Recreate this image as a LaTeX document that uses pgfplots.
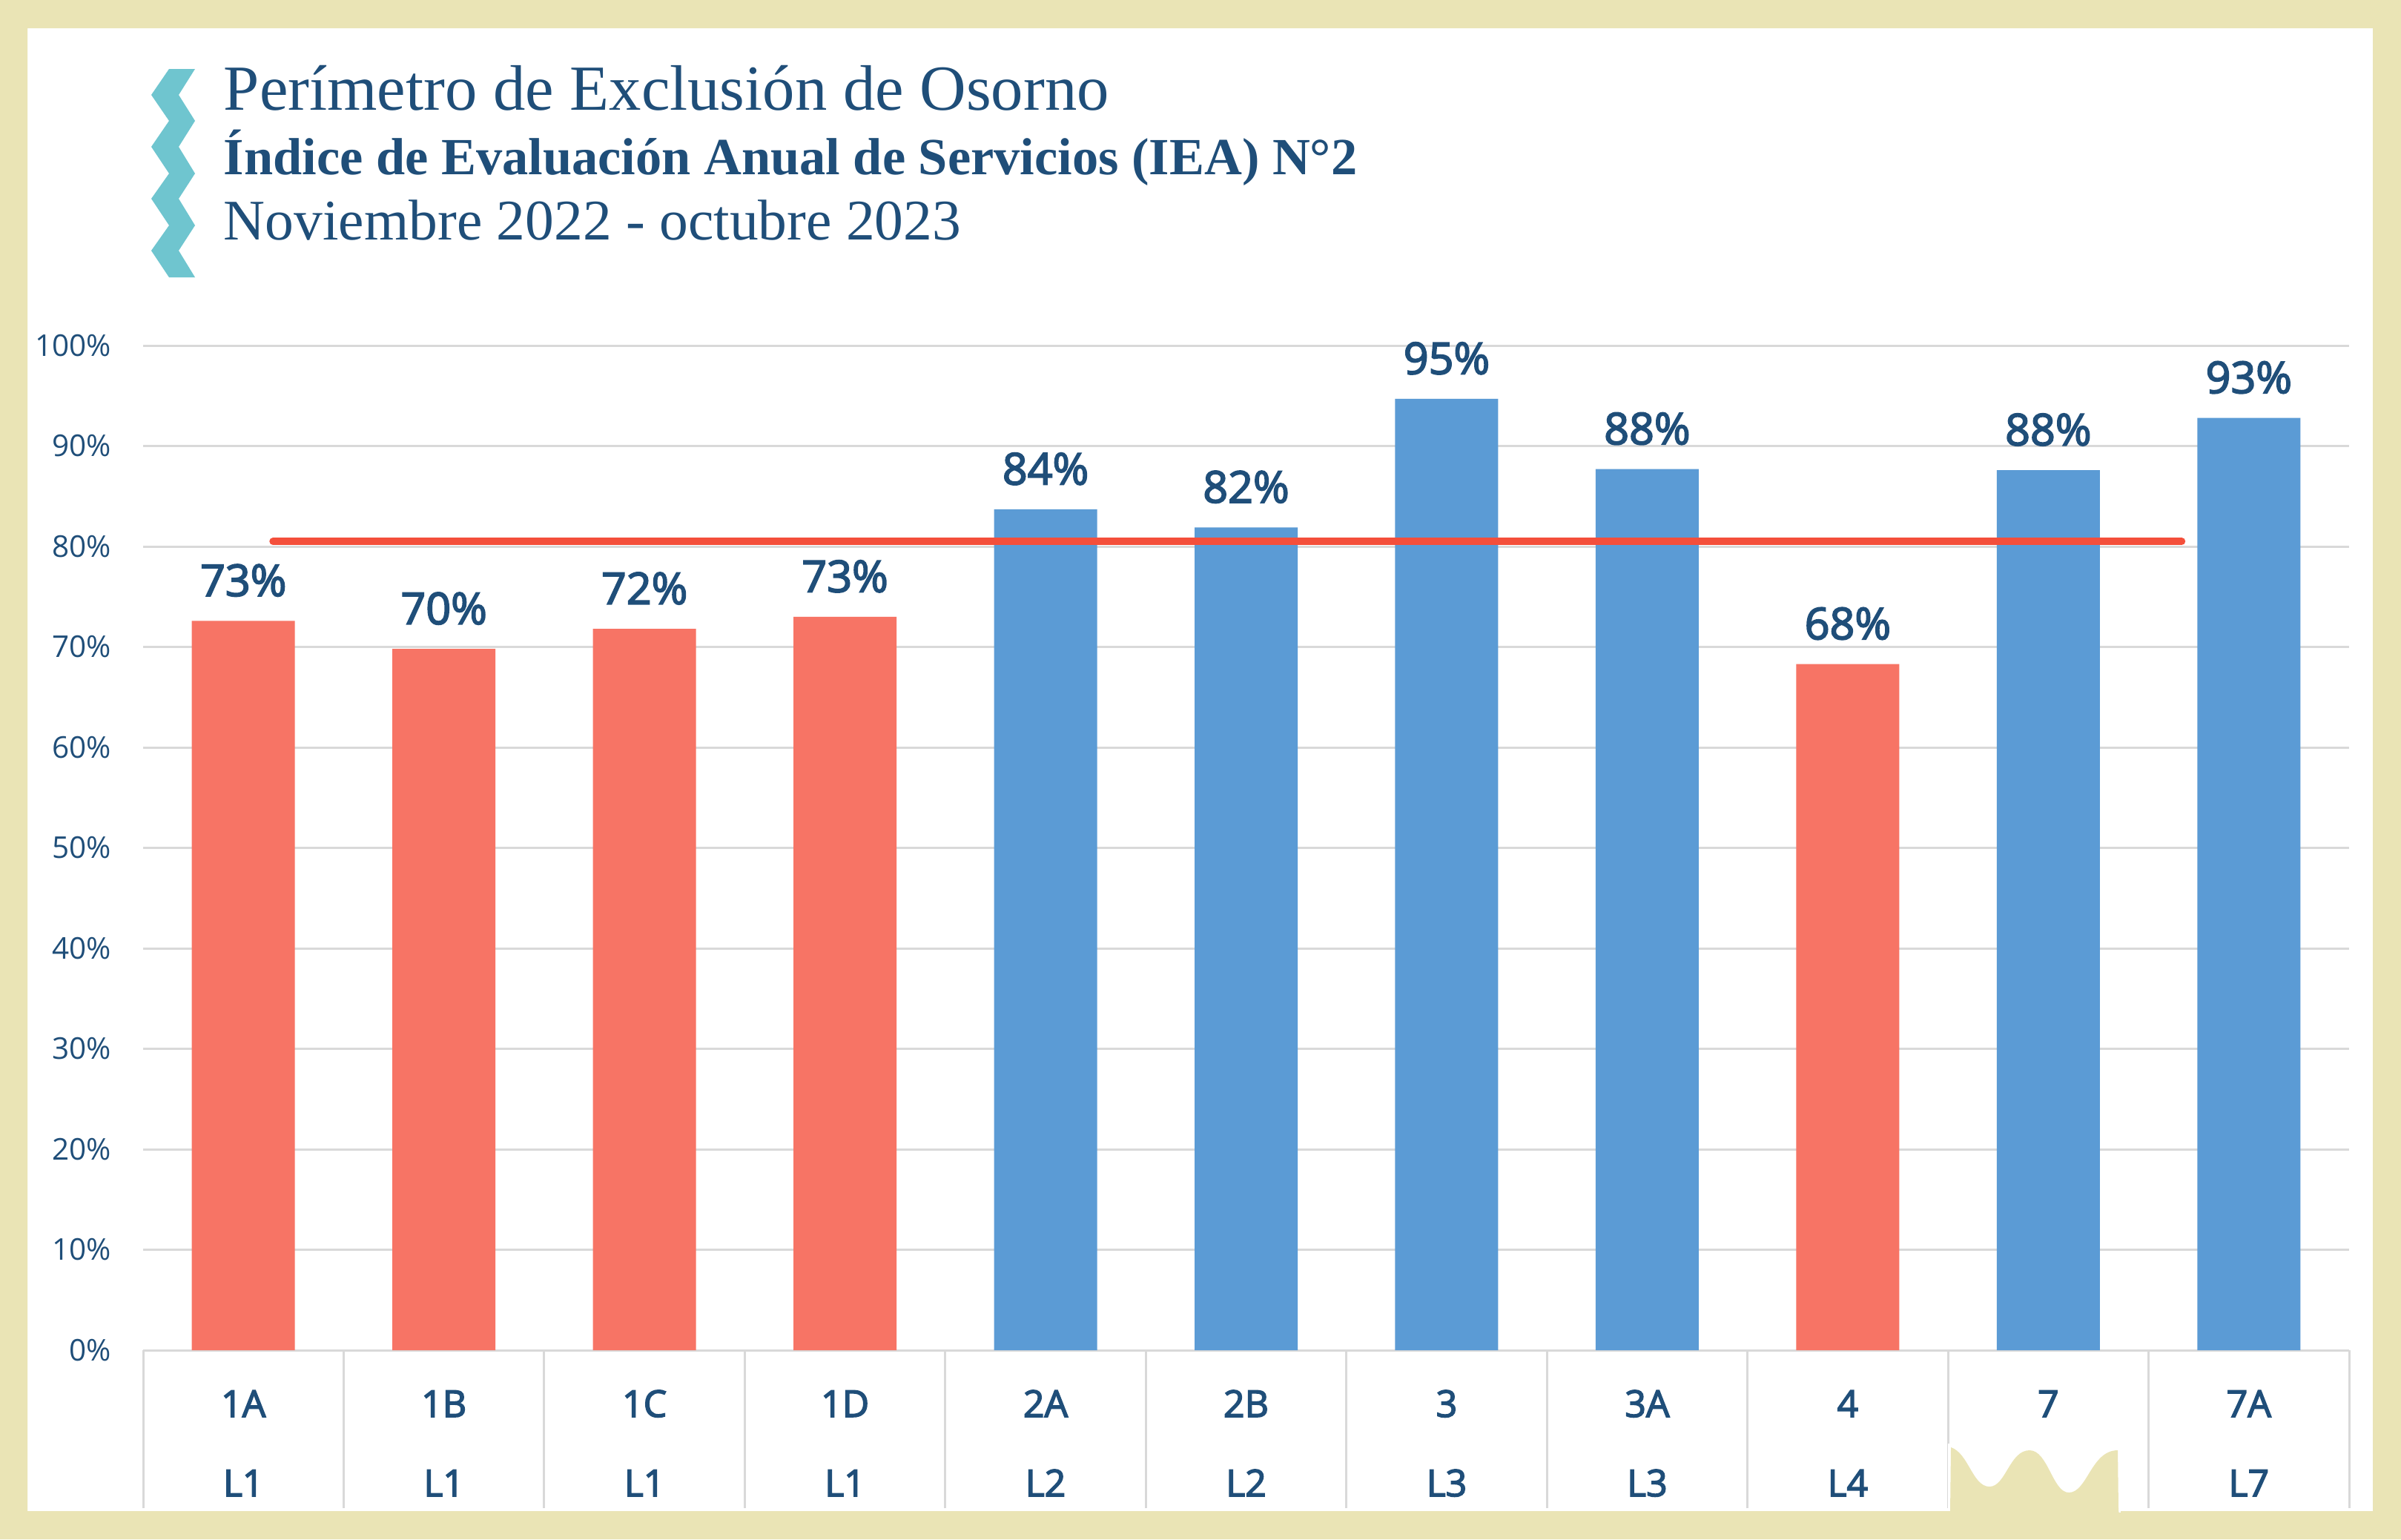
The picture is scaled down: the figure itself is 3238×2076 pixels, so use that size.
\documentclass[border=0pt]{standalone}
\usepackage{fontspec}
\setmainfont{Open Sans}
\newfontfamily\titlefont{Liberation Serif}
\newfontfamily\semifont[FakeBold=3]{Open Sans}
\usepackage{pgfplots}
\pgfplotsset{compat=1.18}
\definecolor{cream}{HTML}{EAE4B5}
\definecolor{ink}{HTML}{1F4E79}
\definecolor{lowbar}{HTML}{F77465}
\definecolor{highbar}{HTML}{5B9BD5}
\definecolor{goal}{HTML}{F44F3B}
\definecolor{teal}{HTML}{6FC5CF}
\definecolor{rule}{HTML}{D9D9D9}
\newlength\px
\setlength\px{0.24pt}

\begin{document}
\begin{tikzpicture}[x=1\px,y=-1\px]
    \useasboundingbox (0,0) rectangle (3238,2076);
    \fill[white] (0,0) rectangle (3238,2076);

    \begin{axis}[
        at={(193\px,-1821\px)}, anchor=south west,
        scale only axis, width=2975\px, height=1355\px,
        xmin=-0.5, xmax=10.5, ymin=0, ymax=100,
        ybar, bar width=139\px, bar shift=0pt,
        axis lines*=left,
        x axis line style={-, draw=rule, line width=3\px},
        y axis line style={draw=none},
        xtick={0,...,10},
        xticklabels={1A,1B,1C,1D,2A,2B,3,3A,4,7,7A},
        minor xtick={-0.5,0.5,1.5,2.5,3.5,4.5,5.5,6.5,7.5,8.5,9.5,10.5},
        extra x ticks={0,...,10},
        extra x tick labels={L1,L1,L1,L1,L2,L2,L3,L3,L4,,L7},
        extra x tick style={xticklabel style={yshift=-107\px}},
        major tick length=0pt,
        minor tick length=213\px,
        tick align=outside,
        minor tick style={draw=rule, line width=3\px},
        xticklabel style={anchor=base, inner sep=0pt, yshift=-90\px, text=ink,
            font=\semifont\fontsize{12}{14}\selectfont},
        ytick={0,10,...,100},
        ymajorgrids, grid style={draw=rule, line width=3\px},
        ytick style={draw=none},
        yticklabel={\pgfmathprintnumber{\tick}\%},
        yticklabel style={anchor=east, inner sep=0pt, xshift=-42\px, text=ink,
            font=\fontsize{9.7}{12}\selectfont},
        /pgf/number format/assume math mode=true,
        /pgf/number format/fixed, /pgf/number format/precision=0,
        nodes near coords={\pgfmathprintnumber{\pgfplotspointmeta}\%},
        every node near coord/.append style={anchor=south, inner sep=0pt, yshift=32\px,
            text=ink, font=\semifont\fontsize{14.2}{16}\selectfont},
    ]
        \addplot[fill=lowbar, draw=none] coordinates {(0,72.6) (1,69.8) (2,71.8) (3,73.0) (8,68.3)};
        \addplot[fill=highbar, draw=none] coordinates {(4,83.7) (5,81.9) (6,94.7) (7,87.7) (9,87.6) (10,92.8)};
        \addplot[goal, line width=10\px, line cap=round, sharp plot, nodes near coords={}, mark=none]
            coordinates {(0.148,80.5) (9.665,80.5)};
    \end{axis}

    % frame and the torn patch under column 7
    \fill[cream, even odd rule] (0,0) rectangle (3238,2076) (37,38) rectangle (3200,2038);
    \fill[white] (2627,1947) rectangle (2860,2040);
    \fill[cream] (2622,2050) -- (2622,2038) -- (2630,2038) -- (2631,1952)
        .. controls (2655,1960) and (2660,2005) .. (2683,2005)
        .. controls (2705,2005) and (2710,1956) .. (2737,1956)
        .. controls (2762,1956) and (2768,2013) .. (2790,2013)
        .. controls (2815,2013) and (2820,1956) .. (2856,1956)
        -- (2857,2038) -- (2861,2050) -- cycle;

    % zigzag next to the title
    \fill[teal] (263,93) -- (241,128) -- (263,163) -- (241,198) -- (263,234) -- (241,268)
        -- (263,304) -- (241,338) -- (263,374) -- (228,374) -- (204,338) -- (228,304)
        -- (204,268) -- (228,234) -- (204,198) -- (228,163) -- (204,128) -- (228,93) -- cycle;

    \node[anchor=base west, inner sep=0pt, text=ink] at (301,148)
        {\titlefont\fontsize{20.8}{24}\selectfont Perímetro de Exclusión de Osorno};
    \node[anchor=base west, inner sep=0pt, text=ink] at (301,235)
        {\titlefont\bfseries\fontsize{16.9}{22}\selectfont Índice de Evaluación Anual de Servicios (IEA) N°2};
    \node[anchor=base west, inner sep=0pt, text=ink] at (301,323)
        {\titlefont\fontsize{18.6}{22}\selectfont Noviembre 2022 - octubre 2023};
\end{tikzpicture}
\end{document}
